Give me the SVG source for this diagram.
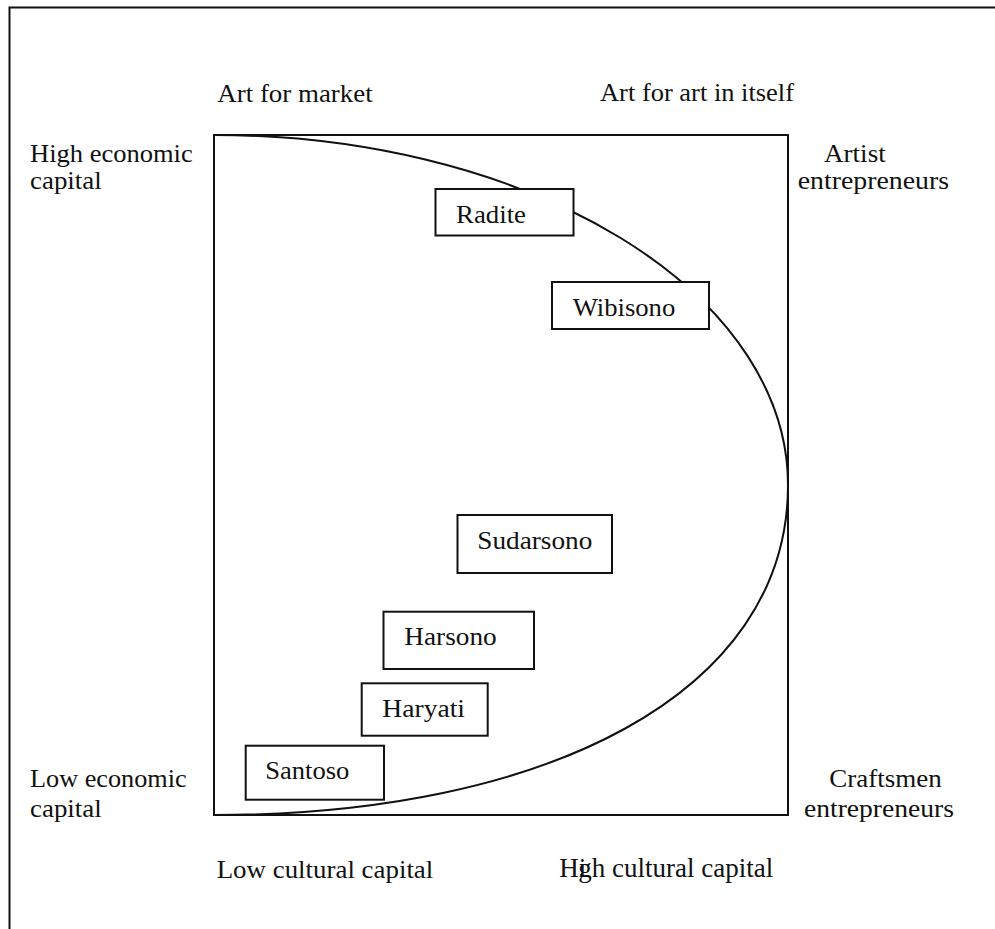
<svg xmlns="http://www.w3.org/2000/svg" width="995" height="929" viewBox="0 0 995 929">
  <style>
    .t { font-family: "Liberation Serif", "Times New Roman", serif; font-size: 26px; fill: #111; }
    .frame { fill: none; stroke: #111; stroke-width: 2; }
    .box { fill: #fff; stroke: #111; stroke-width: 2; }
    .curve { fill: none; stroke: #111; stroke-width: 2; }
  </style>
  <rect width="995" height="929" fill="#fff"/>
  <g id="outer-frame">
    <rect class="frame" x="9.5" y="7.5" width="1100" height="1100"/>
  </g>
  <g id="plot-area">
    <rect class="frame" x="214" y="135" width="574" height="680"/>
  </g>
  <g id="connectors">
    <path class="curve" d="M214,135 A574,350 0 0 1 788,485 C788,695 544,815 214,815"/>
  </g>
  <g id="labels">
    <text class="t" x="217.3" y="101.7" textLength="155.4" lengthAdjust="spacingAndGlyphs">Art for market</text>
    <text class="t" x="600" y="101" textLength="194" lengthAdjust="spacingAndGlyphs">Art for art in itself</text>
    <text class="t" x="30" y="161.7" textLength="162.7" lengthAdjust="spacingAndGlyphs">High economic</text>
    <text class="t" x="30" y="188.5" textLength="71.7" lengthAdjust="spacingAndGlyphs">capital</text>
    <text class="t" x="824" y="161.7" textLength="61.7" lengthAdjust="spacingAndGlyphs">Artist</text>
    <text class="t" x="797.7" y="188.5" textLength="151.3" lengthAdjust="spacingAndGlyphs">entrepreneurs</text>
    <text class="t" x="30" y="786.7" textLength="156.7" lengthAdjust="spacingAndGlyphs">Low economic</text>
    <text class="t" x="30" y="816.7" textLength="71.7" lengthAdjust="spacingAndGlyphs">capital</text>
    <text class="t" x="829.3" y="786.7" textLength="112.4" lengthAdjust="spacingAndGlyphs">Craftsmen</text>
    <text class="t" x="804" y="817.3" textLength="150" lengthAdjust="spacingAndGlyphs">entrepreneurs</text>
    <text class="t" x="216.7" y="877.7" textLength="216.6" lengthAdjust="spacingAndGlyphs">Low cultural capital</text>
    <text class="t" x="559.3" y="876.7" style="font-size:27px">Hi<tspan dx="-8">gh cultural capital</tspan></text>
  </g>
  <g id="node-radite">
    <rect class="box" x="435.5" y="189" width="138" height="46.5"/>
    <text class="t" x="456" y="223.3" textLength="70" lengthAdjust="spacingAndGlyphs">Radite</text>
  </g>
  <g id="node-wibisono">
    <rect class="box" x="552" y="282" width="157" height="47"/>
    <text class="t" x="572.7" y="315.7" textLength="102.6" lengthAdjust="spacingAndGlyphs">Wibisono</text>
  </g>
  <g id="node-sudarsono">
    <rect class="box" x="457.5" y="515" width="154.5" height="58"/>
    <text class="t" x="477.3" y="549.3" textLength="115" lengthAdjust="spacingAndGlyphs">Sudarsono</text>
  </g>
  <g id="node-harsono">
    <rect class="box" x="383.5" y="611.7" width="150.5" height="57.3"/>
    <text class="t" x="404.3" y="645" textLength="92.4" lengthAdjust="spacingAndGlyphs">Harsono</text>
  </g>
  <g id="node-haryati">
    <rect class="box" x="361.7" y="683.3" width="126" height="52.4"/>
    <text class="t" x="382.3" y="716.7" textLength="82.7" lengthAdjust="spacingAndGlyphs">Haryati</text>
  </g>
  <g id="node-santoso">
    <rect class="box" x="245.7" y="745.7" width="138.3" height="54"/>
    <text class="t" x="265.3" y="779" textLength="84" lengthAdjust="spacingAndGlyphs">Santoso</text>
  </g>
</svg>
